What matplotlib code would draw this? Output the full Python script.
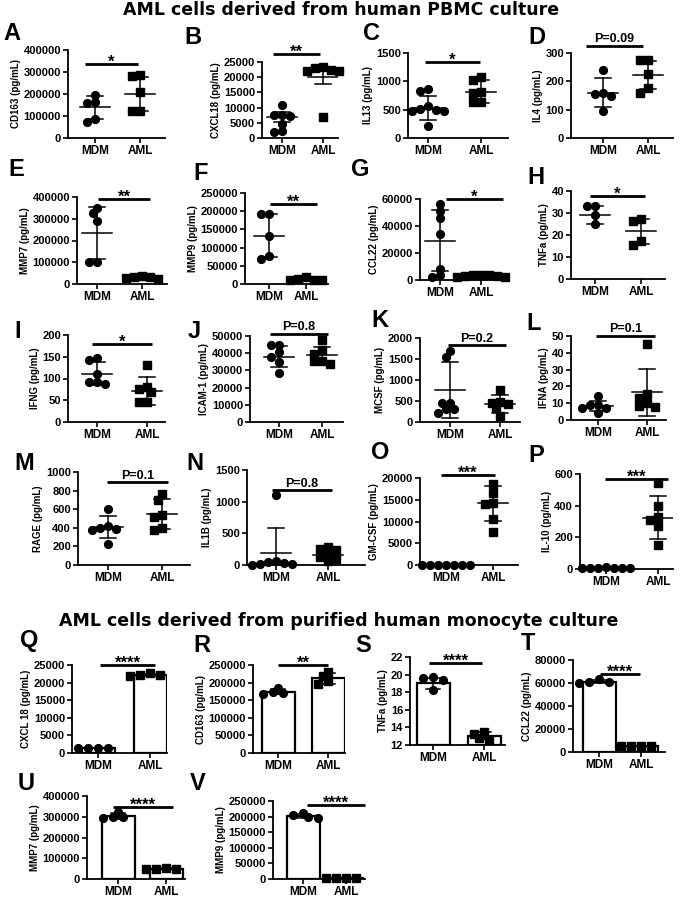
import numpy as np
import matplotlib
matplotlib.use("Agg")
import matplotlib.pyplot as plt

plt.rcParams['font.family'] = ['Liberation Sans', 'DejaVu Sans']
plt.rcParams['font.weight'] = 'bold'
plt.rcParams['axes.labelweight'] = 'bold'

W, H = 686, 900

groups = ["MDM", "AML"]

# ---------------- data: AML cells from human PBMC culture ----------------
A_mdm = [195000, 165000, 160000, 75000, 85000]
A_aml = [285000, 280000, 210000, 125000, 125000]
A_mean = [140000, 200000]; A_err = [52000, 77000]
A_ticks = [0, 100000, 200000, 300000, 400000]

B_mdm = [10800, 7600, 7200, 7600, 4500, 2000, 2200]
B_aml = [23000, 22200, 22000, 22500, 23500, 6800]
B_mean = [6800, 20200]; B_err = [1600, 2500]
B_ticks = [0, 5000, 10000, 15000, 20000, 25000]

C_mdm = [870, 830, 560, 520, 500, 480, 470, 220]
C_aml = [1080, 1030, 810, 800, 640, 640]
C_mean = [530, 820]; C_err = [205, 200]
C_ticks = [0, 500, 1000, 1500]

D_mdm = [240, 160, 155, 150, 95]
D_aml = [275, 275, 225, 175, 160]
D_mean = [160, 222]; D_err = [52, 50]
D_ticks = [0, 100, 200, 300]

E_mdm = [350000, 325000, 290000, 100000, 100000]
E_aml = [37000, 33000, 25000, 28000, 30000]
E_mean = [234000, 31000]; E_err = [121000, 8000]
E_ticks = [0, 100000, 200000, 300000, 400000]

F_mdm = [192000, 192000, 133000, 78000, 70000]
F_aml = [20000, 15000, 12000, 10000, 10000]
F_mean = [133000, 13000]; F_err = [58000, 5000]
F_ticks = [0, 50000, 100000, 150000, 200000, 250000]

G_mdm = [56000, 51000, 46000, 34000, 8500, 2000, 3500]
G_aml = [3000, 2500, 3500, 4000, 2000, 3500, 3000]
G_mean = [29000, 3000]; G_err = [22500, 800]
G_ticks = [0, 20000, 40000, 60000]

H_mdm = [33, 33, 29, 25]
H_aml = [27.3, 26.4, 17.4, 15.6]
H_mean = [29, 21.6]; H_err = [4, 5.8]
H_ticks = [0, 10, 20, 30, 40]

I_mdm = [143, 147, 110, 87, 92, 91]
I_aml = [130, 80, 75, 68, 45, 45]
I_mean = [111, 72]; I_err = [26, 32]
I_ticks = [0, 50, 100, 150, 200]

J_mdm = [44500, 44800, 40600, 38000, 35000, 28500]
J_aml = [47700, 42000, 39600, 35600, 33700, 35600]
J_mean = [38000, 39000]; J_err = [6000, 4800]
J_ticks = [0, 10000, 20000, 30000, 40000, 50000]

K_mdm = [1700, 1550, 450, 450, 310, 300, 220]
K_aml = [760, 470, 460, 420, 330, 140]
K_mean = [760, 430]; K_err = [660, 205]
K_ticks = [0, 500, 1000, 1500, 2000]

L_mdm = [14.4, 8.7, 9, 7.3, 7.1, 4.3]
L_aml = [45, 15.5, 13, 10, 8.5, 7.5]
L_mean = [8.2, 16.6]; L_err = [3, 14]
L_ticks = [0, 10, 20, 30, 40, 50]

M_mdm = [600, 420, 400, 390, 380, 230]
M_aml = [760, 700, 540, 520, 400, 380]
M_mean = [405, 550]; M_err = [120, 160]
M_ticks = [0, 200, 400, 600, 800, 1000]

N_mdm = [1100, 60, 40, 25, 15, 10, 5]
N_aml = [290, 260, 240, 180, 130, 100, 60]
N_mean = [190, 160]; N_err = [395, 90]
N_ticks = [0, 500, 1000, 1500]

O_mdm = [0, 0, 0, 0, 0, 0, 0]
O_aml = [18700, 16600, 14200, 14000, 10500, 7700]
O_mean = [0, 14200]; O_err = [0, 4000]
O_ticks = [0, 5000, 10000, 15000, 20000]

P_mdm = [8, 10, 6, 9, 5, 8, 7]
P_aml = [545, 400, 330, 310, 270, 150]
P_mean = [8, 325]; P_err = [2, 137]
P_ticks = [0, 200, 400, 600]

# ---------------- data: AML cells from purified monocyte culture ----------------
Q_mdm = [1400, 1500, 1450, 1500]
Q_aml = [22200, 22600, 21900, 22100]
Q_mean = [1460, 22200]; Q_err = [50, 300]
Q_ticks = [0, 5000, 10000, 15000, 20000, 25000]

R_mdm = [184000, 170000, 172000, 168000]
R_aml = [230000, 218000, 205000, 195000]
R_mean = [173500, 212000]; R_err = [7000, 15000]
R_ticks = [0, 50000, 100000, 150000, 200000, 250000]

S_mdm = [19.4, 19.7, 19.6, 18.3]
S_aml = [13.5, 13.3, 12.8, 12.6]
S_mean = [19.0, 13.05]; S_err = [0.6, 0.4]
S_ticks = [12, 14, 16, 18, 20, 22]

T_mdm = [63500, 61000, 60500, 60000]
T_aml = [5500, 5200, 5000, 5300]
T_mean = [61200, 5250]; T_err = [1600, 200]
T_ticks = [0, 20000, 40000, 60000, 80000]

U_mdm = [325000, 297000, 300000, 296000]
U_aml = [50000, 51000, 49000, 50000]
U_mean = [304500, 50000]; U_err = [14000, 800]
U_ticks = [0, 100000, 200000, 300000, 400000]

V_mdm = [204000, 198000, 197000, 212000]
V_aml = [3000, 2800, 3200, 3000]
V_mean = [202750, 3000]; V_err = [7000, 200]
V_ticks = [0, 50000, 100000, 150000, 200000, 250000]

panels = [
    ("A", "CD163 (pg/mL)", A_mdm, A_aml, A_mean, A_err, A_ticks, "*", "dot"),
    ("B", "CXCL18 (pg/mL)", B_mdm, B_aml, B_mean, B_err, B_ticks, "**", "dot"),
    ("C", "IL13 (pg/mL)", C_mdm, C_aml, C_mean, C_err, C_ticks, "*", "dot"),
    ("D", "IL4 (pg/mL)", D_mdm, D_aml, D_mean, D_err, D_ticks, "P=0.09", "dot"),
    ("E", "MMP7 (pg/mL)", E_mdm, E_aml, E_mean, E_err, E_ticks, "**", "dot"),
    ("F", "MMP9 (pg/mL)", F_mdm, F_aml, F_mean, F_err, F_ticks, "**", "dot"),
    ("G", "CCL22 (pg/mL)", G_mdm, G_aml, G_mean, G_err, G_ticks, "*", "dot"),
    ("H", "TNFa (pg/mL)", H_mdm, H_aml, H_mean, H_err, H_ticks, "*", "dot"),
    ("I", "IFNG (pg/mL)", I_mdm, I_aml, I_mean, I_err, I_ticks, "*", "dot"),
    ("J", "ICAM-1 (pg/mL)", J_mdm, J_aml, J_mean, J_err, J_ticks, "P=0.8", "dot"),
    ("K", "MCSF (pg/mL)", K_mdm, K_aml, K_mean, K_err, K_ticks, "P=0.2", "dot"),
    ("L", "IFNA (pg/mL)", L_mdm, L_aml, L_mean, L_err, L_ticks, "P=0.1", "dot"),
    ("M", "RAGE (pg/mL)", M_mdm, M_aml, M_mean, M_err, M_ticks, "P=0.1", "dot"),
    ("N", "IL1B (pg/mL)", N_mdm, N_aml, N_mean, N_err, N_ticks, "P=0.8", "dot"),
    ("O", "GM-CSF (pg/mL)", O_mdm, O_aml, O_mean, O_err, O_ticks, "***", "dot"),
    ("P", "IL-10 (pg/mL)", P_mdm, P_aml, P_mean, P_err, P_ticks, "***", "dot"),
    ("Q", "CXCL 18 (pg/mL)", Q_mdm, Q_aml, Q_mean, Q_err, Q_ticks, "****", "bar"),
    ("R", "CD163 (pg/mL)", R_mdm, R_aml, R_mean, R_err, R_ticks, "**", "bar"),
    ("S", "TNFa (pg/mL)", S_mdm, S_aml, S_mean, S_err, S_ticks, "****", "bar"),
    ("T", "CCL22 (pg/mL)", T_mdm, T_aml, T_mean, T_err, T_ticks, "****", "bar"),
    ("U", "MMP7 (pg/mL)", U_mdm, U_aml, U_mean, U_err, U_ticks, "****", "bar"),
    ("V", "MMP9 (pg/mL)", V_mdm, V_aml, V_mean, V_err, V_ticks, "****", "bar"),
]

# ---------------- layout (pixels): axis left, right, MDM x, AML x, top, bottom ----------------
layout = {
    "A": dict(box=(68, 165, 95, 140, 50, 138), let=(12, 34), sig=(0.78, 1.96, 336000)),
    "B": dict(box=(262, 338, 282, 323, 62, 138), let=(193, 37), sig=(0.78, 1.93, 27600)),
    "C": dict(box=(408, 508, 428, 481, 53, 138), let=(372, 34), sig=(0.94, 1.98, 1340)),
    "D": dict(box=(571, 673, 603, 648, 53, 138), let=(537, 37), sig=(0.62, 1.89, 325)),
    "E": dict(box=(77, 167, 97, 142, 197, 284), let=(16, 170), sig=(1.02, 2.18, 391000)),
    "F": dict(box=(245, 328, 269, 306, 193, 284), let=(201, 173), sig=(1.03, 2.30, 220000)),
    "G": dict(box=(420, 505, 440, 481, 199, 280), let=(360, 170), sig=(1.15, 2.54, 60000)),
    "H": dict(box=(571, 665, 595, 641, 191, 279), let=(536, 178), sig=(0.89, 2.09, 37.7)),
    "I": dict(box=(68, 165, 97, 147, 335, 422), let=(18, 332), sig=(0.90, 2.10, 179)),
    "J": dict(box=(250, 343, 279, 322, 336, 422), let=(194, 332), sig=(0.79, 2.14, 51200)),
    "K": dict(box=(420, 520, 450, 500, 338, 422), let=(380, 320), sig=(0.96, 2.12, 1833)),
    "L": dict(box=(571, 666, 598, 647, 336, 420), let=(534, 324), sig=(0.96, 2.16, 50)),
    "M": dict(box=(78, 190, 108, 162, 472, 565), let=(24, 464), sig=(0.98, 2.11, 892)),
    "N": dict(box=(247, 365, 276, 328, 470, 565), let=(195, 463), sig=(0.92, 2.08, 1184)),
    "O": dict(box=(420, 518, 446, 493, 478, 565), let=(380, 453), sig=(0.89, 2.04, 20700)),
    "P": dict(box=(580, 673, 606, 658, 474, 569), let=(536, 455), sig=(0.98, 2.19, 568)),
    "Q": dict(box=(72, 167, 98, 150, 665, 753), let=(29, 640), sig=(1.04, 2.10, 25000)),
    "R": dict(box=(253, 345, 278, 328, 665, 753), let=(202, 645), sig=(1.00, 2.00, 250000)),
    "S": dict(box=(410, 505, 433, 484, 657, 745), let=(363, 645), sig=(0.92, 1.96, 21.3)),
    "T": dict(box=(573, 665, 599, 641, 660, 752), let=(528, 643), sig=(1.02, 1.98, 67800)),
    "U": dict(box=(87, 185, 118, 166, 796, 879), let=(26, 784), sig=(0.90, 2.15, 347600)),
    "V": dict(box=(273, 365, 303, 346, 801, 879), let=(198, 784), sig=(1.09, 2.44, 237500)),
}

PT = 100 / 72.0  # pixels per point


def swarm(values, xc, px_u, px_v, y0, d=6.5, step=4.0):
    vals = np.asarray(values, dtype=float)
    order = np.argsort(-vals, kind="stable")
    placed = []
    xs = np.zeros(len(vals))
    cands = [0.0]
    for j in range(1, 14):
        cands += [-j * step, j * step]
    for i in order:
        ypx = (vals[i] - y0) * px_v
        chosen = cands[-1]
        for c in cands:
            if all((c - px) ** 2 + (ypx - py) ** 2 >= d * d for px, py in placed):
                chosen = c
                break
        placed.append((chosen, ypx))
        xs[i] = xc + chosen / px_u
    return xs


fig = plt.figure(figsize=(W / 100, H / 100), dpi=100)

for (letter, ylabel, mdm, aml, mean, err, yticks, sigtxt, kind) in panels:
    lay = layout[letter]
    L, R, m, a, T, Z = lay["box"]
    ax = fig.add_axes([L / W, 1 - Z / H, (R - L) / W, (Z - T) / H])
    u = float(a - m)
    ax.set_xlim(1 - (m - L) / u, 1 + (R - m) / u)
    y0, y1 = yticks[0], yticks[-1]
    ax.set_ylim(y0, y1)
    pv = (Z - T) / float(y1 - y0)

    for gi, (vals, mk, ms) in enumerate([(mdm, "o", 5.6), (aml, "s", 5.2)]):
        xc = gi + 1
        mu, e = mean[gi], err[gi]
        if kind == "bar":
            bw = 33 / u
            ax.bar(xc, mu - y0, bottom=y0, width=bw, facecolor="white",
                   edgecolor="black", linewidth=1.6, zorder=1)
            cap = 7 / u
            ax.plot([xc, xc], [mu - e, mu + e], color="k", lw=1.1, zorder=2)
            for yy in (mu - e, mu + e):
                ax.plot([xc - cap, xc + cap], [yy, yy], color="k", lw=1.1, zorder=2)
            xs = swarm(vals, xc, u, pv, y0, d=6.5, step=5.0)
        else:
            hw = 15 / u
            cap = 8 / u
            ax.plot([xc - hw, xc + hw], [mu, mu], color="k", lw=1.1, zorder=2)
            ax.plot([xc, xc], [mu - e, mu + e], color="k", lw=1.1, zorder=2)
            for yy in (mu - e, mu + e):
                ax.plot([xc - cap, xc + cap], [yy, yy], color="k", lw=1.1, zorder=2)
            xs = swarm(vals, xc, u, pv, y0)
        ax.plot(xs, vals, linestyle="none", marker=mk, ms=ms, color="black",
                clip_on=False, zorder=3)

    for s in ("top", "right"):
        ax.spines[s].set_visible(False)
    for s in ("left", "bottom"):
        ax.spines[s].set_linewidth(1.3)
    ax.set_xticks([1, 2])
    ax.set_xticklabels(groups, fontsize=8.5, fontweight="bold")
    ax.set_yticks(yticks)
    ax.set_yticklabels([str(v) for v in yticks], fontsize=8, fontweight="bold")
    ax.tick_params(direction="out", length=3.5, width=1.2, pad=1.5)
    ax.set_ylabel(ylabel, fontsize=7, fontweight="bold", labelpad=2)

    x1, x2, ys = lay["sig"]
    ax.plot([x1, x2], [ys, ys], color="k", lw=2.0, clip_on=False,
            solid_capstyle="butt", zorder=4)
    if sigtxt.startswith("P"):
        ax.annotate(sigtxt, xy=((x1 + x2) / 2, ys), xytext=(0, 3.5 / PT),
                    textcoords="offset points", ha="center", va="baseline",
                    fontsize=9, fontweight="bold", annotation_clip=False)
    else:
        ax.annotate(sigtxt, xy=((x1 + x2) / 2, ys), xytext=(0, -2.5 / PT),
                    textcoords="offset points", ha="center", va="baseline",
                    fontsize=12, fontweight="bold", annotation_clip=False)

    lx, ly = lay["let"]
    fig.text(lx / W, 1 - ly / H, letter, fontsize=17, fontweight="bold",
             ha="center", va="center")

fig.text(341 / W, 1 - 10 / H, "AML cells derived from human PBMC culture",
         fontsize=12.5, fontweight="bold", ha="center", va="center",
         family=["DejaVu Sans"])
fig.text(339 / W, 1 - 621 / H, "AML cells derived from purified human monocyte culture",
         fontsize=12.5, fontweight="bold", ha="center", va="center",
         family=["DejaVu Sans"])

fig.savefig("out.png", dpi=100)
